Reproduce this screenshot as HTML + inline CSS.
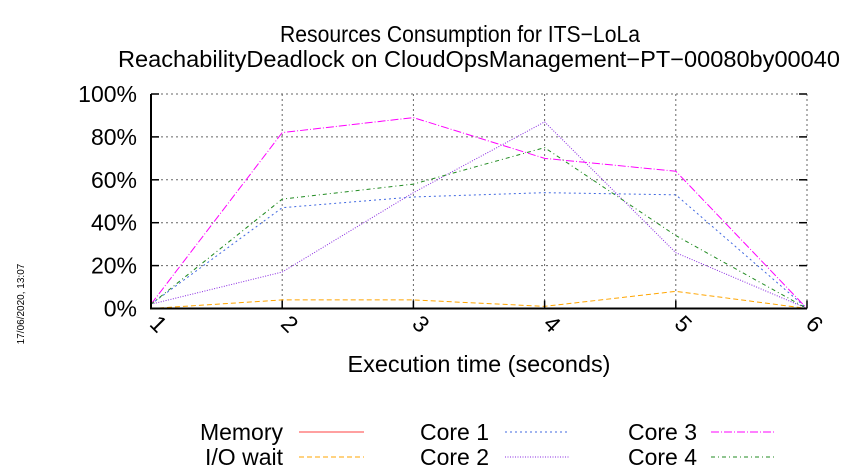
<!DOCTYPE html>
<html><head><meta charset="utf-8"><style>
body{margin:0;background:#fff;}
svg{display:block;font-family:"Liberation Sans",sans-serif;}
</style></head><body>
<svg id="chart" width="850" height="475" viewBox="0 0 850 475">
<text x="460" y="42" font-size="23" text-anchor="middle" textLength="360" lengthAdjust="spacingAndGlyphs">Resources Consumption for ITS−LoLa</text>
<text x="479" y="67" font-size="23" text-anchor="middle" textLength="722" lengthAdjust="spacingAndGlyphs">ReachabilityDeadlock on CloudOpsManagement−PT−00080by00040</text>
<text transform="translate(24,304) rotate(-90)" font-size="10" text-anchor="middle">17/06/2020, 13:07</text>
<g id="grid"></g>
<g id="series"></g>
<g id="axes"></g>
<text x="479" y="372" font-size="23" text-anchor="middle" textLength="263" lengthAdjust="spacingAndGlyphs">Execution time (seconds)</text>
<g id="legend"></g>
</svg>
<script>
const categories=[1,2,3,4,5,6];
const yTicks=[0,20,40,60,80,100];
const memory=[0,0,0,0,0,0];
const ioWait=[0,4,4,1,8,0];
const core1=[2,47,52,54,53,0];
const core2=[2,17,54,87,26,0];
const core3=[2,82,89,70,64,0];
const core4=[2,51,58,75,34,0];
const L=151,R=807,T=94,B=308.5;
const xs=v=>L+(v-1)*(R-L)/5;
const ys=v=>B-v*(B-T)/100;
const NS='http://www.w3.org/2000/svg';
function mk(tag,attrs,parent){const e=document.createElementNS(NS,tag);for(const k in attrs)e.setAttribute(k,attrs[k]);parent.appendChild(e);return e;}
const grid=document.getElementById('grid'),axes=document.getElementById('axes'),ser=document.getElementById('series'),leg=document.getElementById('legend');
yTicks.forEach(t=>{
 if(t>0){const g=mk('line',{x1:L,x2:R,y1:ys(t),y2:ys(t),stroke:'#666','stroke-width':1,'stroke-dasharray':'2,3'},grid);
 
 }
 const tk=mk('line',{x1:L,x2:L+8,y1:ys(t),y2:ys(t),stroke:'#000','stroke-width':1.5},axes);
 
 
 const tk2=mk('line',{x1:R-8,x2:R,y1:ys(t),y2:ys(t),stroke:'#000','stroke-width':1.5},axes);
 
 
 const tx=mk('text',{x:137,y:ys(t)+8,'font-size':23,'text-anchor':'end'},axes);
 tx.textContent=t+'%';
 
 
});
categories.forEach(c=>{
 if(c>1){const g=mk('line',{x1:xs(c),x2:xs(c),y1:T,y2:B,stroke:'#666','stroke-width':1,'stroke-dasharray':'2,3'},grid);
 
 }
 const tk=mk('line',{x1:xs(c),x2:xs(c),y1:B-8,y2:B,stroke:'#000','stroke-width':1.5},axes);
 
 
 const tx=mk('text',{transform:`translate(${xs(c)+2},${B+21}) rotate(45)`,'font-size':23,'text-anchor':'middle'},axes);
 tx.textContent=c;
 
 
});
const ax=mk('path',{d:`M${L},${T} L${L},${B} L${R},${B}`,fill:'none',stroke:'#000','stroke-width':2},axes);


const defs=[
 {n:'memory',d:memory,c:'#ff4040',da:'',lab:'Memory',lx:283,ly:432,l1:299},
 {n:'io-wait',d:ioWait,c:'#ffa500',da:'5,3',lab:'I/O wait',lx:283,ly:457,l1:299},
 {n:'core-1',d:core1,c:'#4169e1',da:'2,3',lab:'Core 1',lx:489,ly:432,l1:505},
 {n:'core-2',d:core2,c:'#8a2be2',da:'1,1.5',lab:'Core 2',lx:489,ly:457,l1:505},
 {n:'core-3',d:core3,c:'#ff00ff',da:'8,2,1,2',lab:'Core 3',lx:697,ly:432,l1:711},
 {n:'core-4',d:core4,c:'#228b22',da:'4,3,1,3',lab:'Core 4',lx:697,ly:457,l1:711}
];
defs.forEach(s=>{
 const p=mk('polyline',{points:s.d.map((v,i)=>xs(categories[i])+','+ys(v)).join(' '),fill:'none',stroke:s.c,'stroke-width':1,'stroke-dasharray':s.da},ser);
 
 
 const t=mk('text',{x:s.lx,y:s.ly+8,'font-size':23,'text-anchor':'end'},leg);
 t.textContent=s.lab;
 
 
 const l=mk('line',{x1:s.l1,x2:s.l1+65,y1:s.ly,y2:s.ly,stroke:s.c,'stroke-width':1,'stroke-dasharray':s.da},leg);
 
 
});
</script>
</body></html>
